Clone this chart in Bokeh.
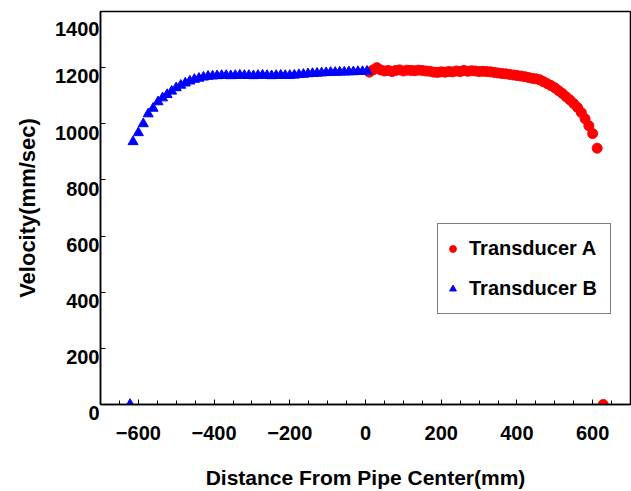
from bokeh.plotting import figure
from bokeh.models import Range1d, FixedTicker, Legend, LegendItem
from bokeh.embed import file_html
from bokeh.resources import INLINE

# Transducer A (red circles)
a_x = [10, 20, 30, 40, 50, 60, 70, 80, 90, 100, 110, 120, 130, 140, 150, 160, 170, 180,
       190, 200, 210, 220, 230, 240, 250, 260, 270, 280, 290, 300, 310, 320, 330, 340,
       350, 360, 370, 380, 390, 400, 410, 420, 430, 440, 450, 460, 470, 480, 490, 500,
       510, 520, 530, 540, 550, 560, 570, 580, 590, 600, 612, 628]
a_y = [1184, 1192, 1200, 1192, 1188, 1190, 1186, 1190, 1192, 1188, 1191, 1190, 1189, 1191,
       1190, 1188, 1187, 1184, 1183, 1185, 1184, 1186, 1185, 1188, 1186, 1190, 1187, 1189,
       1188, 1186, 1187, 1186, 1185, 1183, 1181, 1179, 1178, 1176, 1174, 1172, 1170, 1168,
       1165, 1162, 1160, 1157, 1150, 1143, 1136, 1128, 1118, 1108, 1096, 1085, 1072, 1058,
       1040, 1018, 993, 965, 913, 0]

# Transducer B (blue triangles)
b_x = [-622, -614, -600, -587, -574, -561, -548, -536, -524, -512, -500, -488, -476, -464,
       -452, -440, -428, -416, -404, -392, -380, -368, -356, -344, -332, -320, -308, -296,
       -284, -272, -260, -248, -236, -224, -212, -200, -188, -176, -164, -152, -140, -128,
       -116, -104, -92, -80, -68, -56, -44, -32, -20, -8, 4]
b_y = [0, 936, 968, 1000, 1035, 1055, 1078, 1092, 1104, 1116, 1128, 1137, 1145, 1152,
       1158, 1162, 1166, 1169, 1170, 1171, 1172, 1172, 1171, 1172, 1173, 1172, 1172, 1171,
       1172, 1173, 1172, 1171, 1172, 1173, 1172, 1172, 1173, 1175, 1176, 1178, 1179, 1180,
       1181, 1182, 1183, 1183, 1184, 1184, 1185, 1185, 1186, 1186, 1187]

x_major = [-600, -400, -200, 0, 200, 400, 600]
x_minor = [-650, -550, -500, -450, -350, -300, -250, -150, -100, -50,
           50, 100, 150, 250, 300, 350, 450, 500, 550, 650]
y_major = [0, 200, 400, 600, 800, 1000, 1200, 1400]

p = figure(width=631, height=491, output_backend="svg", toolbar_location=None,
           x_range=Range1d(-700, 700), y_range=Range1d(0, 1400),
           min_border_left=100, min_border_right=1, min_border_top=11, min_border_bottom=87)

p.outline_line_color = "black"
p.outline_line_width = 1.5
p.xgrid.visible = False
p.ygrid.visible = False
p.background_fill_color = "white"
p.border_fill_color = "white"

for ax in (p.xaxis[0], p.yaxis[0]):
    ax.axis_line_color = "black"
    ax.axis_line_width = 1.5
    ax.major_tick_in = 5
    ax.major_tick_out = 0
    ax.minor_tick_in = 4
    ax.minor_tick_out = 0
    ax.major_tick_line_color = "black"
    ax.minor_tick_line_color = "black"
    ax.major_label_text_font = "Liberation Sans"
    ax.major_label_text_font_style = "bold"
    ax.major_label_text_font_size = "20px"
    ax.major_label_text_color = "black"
    ax.axis_label_text_font = "Liberation Sans"
    ax.axis_label_text_font_style = "bold"
    ax.axis_label_text_color = "black"

p.xaxis.ticker = FixedTicker(ticks=x_major, minor_ticks=x_minor)
p.yaxis.ticker = FixedTicker(ticks=y_major, minor_ticks=[])
# the reference prints the y tick labels just below their ticks
p.yaxis.major_label_overrides = {v: "\n" + str(v) for v in y_major}
p.yaxis.major_label_text_line_height = 0.8
p.xaxis.axis_label = "Distance From Pipe Center(mm)"
p.yaxis.axis_label = "Velocity(mm/sec)"
p.xaxis.axis_label_text_font_size = "21px"
p.yaxis.axis_label_text_font_size = "22px"
p.xaxis.major_label_standoff = 21
p.xaxis.axis_label_standoff = 23
p.yaxis.major_label_standoff = 1
p.yaxis.axis_label_standoff = 12

ra = p.scatter(a_x, a_y, marker="circle", size=10, color="#FF0000")
rb = p.scatter(b_x, b_y, marker="triangle", size=10, color="#0000FF")

legend = Legend(items=[LegendItem(label="Transducer A", renderers=[ra]),
                       LegendItem(label="Transducer B", renderers=[rb])],
                location=(337, 90))
legend.label_text_font = "Liberation Sans"
legend.label_text_font_style = "bold"
legend.label_text_font_size = "20px"
legend.label_text_color = "black"
legend.border_line_color = "black"
legend.border_line_width = 1
legend.background_fill_alpha = 1
legend.glyph_width = 17
legend.glyph_height = 37
legend.label_height = 37
legend.label_width = 135
legend.padding = 6
legend.spacing = 3
legend.label_standoff = 8
legend.margin = 0
p.add_layout(legend)

open("out.html", "w").write(file_html(p, INLINE))
